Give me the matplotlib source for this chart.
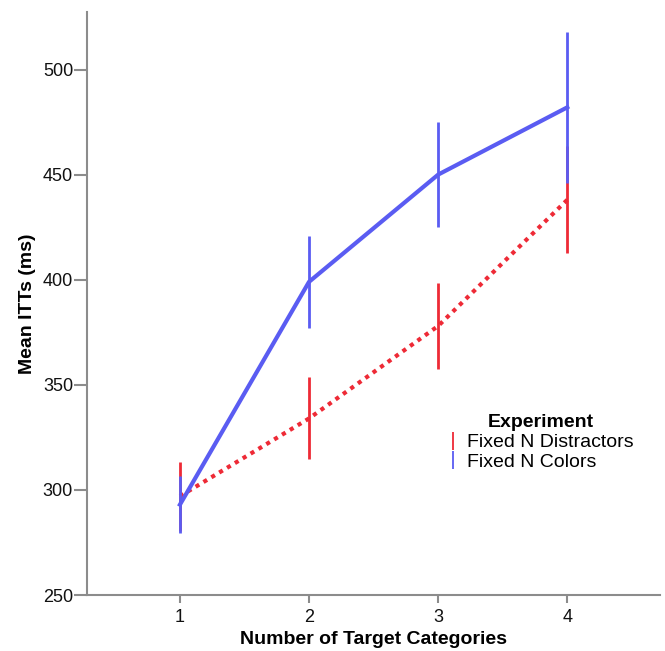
#!/usr/bin/env python3
"""Mean ITTs by number of target categories, two experiments."""

import os

os.environ.setdefault("MPLBACKEND", "Agg")
import matplotlib.pyplot as plt
from matplotlib.lines import Line2D

plt.rcParams["font.family"] = ["Liberation Sans", "DejaVu Sans"]

categories = [1, 2, 3, 4]

distractors_mean = [297, 334, 378, 438]
distractors_err = [16.5, 19.5, 20.5, 25.5]

colors_mean = [293, 399, 450, 482]
colors_err = [13.5, 22, 25, 36]

labels = ["Fixed N Distractors", "Fixed N Colors"]
RED = "#ee2a36"
BLUE = "#5a5cf2"
GREY = "#8c8c8c"

fig = plt.figure(figsize=(6.65, 6.51), dpi=100)
ax = fig.add_axes([0.1308, 0.086, 0.862, 0.896])

# red series (dotted) underneath the blue one
ax.plot(categories, distractors_mean, color=RED, lw=3, linestyle=(0, (1, 1.2)), zorder=2)
ax.errorbar(categories, distractors_mean, yerr=distractors_err, fmt="none",
            ecolor=RED, elinewidth=2, capsize=0, zorder=3)
ax.plot(categories, colors_mean, color=BLUE, lw=3, zorder=4)
ax.errorbar(categories, colors_mean, yerr=colors_err, fmt="none",
            ecolor=BLUE, elinewidth=2, capsize=0, zorder=5)

ax.set_xlim(0.28, 4.72)
ax.set_ylim(250, 527.5)
ax.set_xticks(categories)
ax.set_yticks([250, 300, 350, 400, 450, 500])

for side in ("top", "right"):
    ax.spines[side].set_visible(False)
for side in ("left", "bottom"):
    ax.spines[side].set_color(GREY)
    ax.spines[side].set_linewidth(1.5)
ax.tick_params(axis="both", colors=GREY, labelcolor="#111111", labelsize=13,
               width=1.5, direction="out")
ax.tick_params(axis="x", length=6, pad=4)
ax.tick_params(axis="y", length=9.5, pad=0.5)

ax.set_xlabel("Number of Target Categories", fontsize=14, fontweight="bold", labelpad=4)
ax.set_ylabel("Mean ITTs (ms)", fontsize=14, fontweight="bold", labelpad=5)

handles = [
    Line2D([], [], color=RED, marker="|", linestyle="none", markersize=13, markeredgewidth=1.3),
    Line2D([], [], color=BLUE, marker="|", linestyle="none", markersize=13, markeredgewidth=1.3),
]
leg = ax.legend(handles, labels, title="Experiment", loc="upper left",
                bbox_to_anchor=(0.607, 0.333), frameon=False, fontsize=14,
                title_fontproperties={"weight": "bold", "size": 14},
                handlelength=0.5, handletextpad=0.45, labelspacing=0.12,
                borderpad=0.2)

fig.savefig("out.png", dpi=100)
